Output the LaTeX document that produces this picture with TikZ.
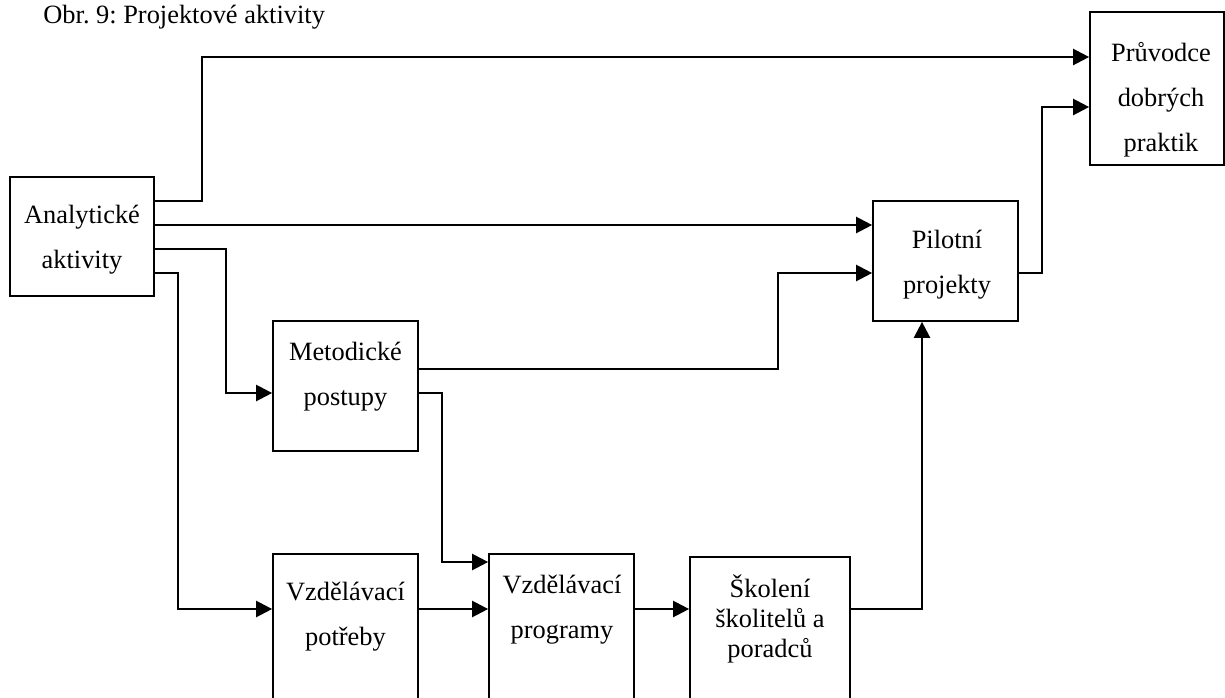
\documentclass[tikz,border=0pt]{standalone}
\usepackage{fontspec}
\setmainfont{Liberation Serif}
\usetikzlibrary{arrows.meta}
\frenchspacing
\begin{document}
\begin{tikzpicture}[x=0.5pt,y=-0.5pt,
 box/.style={draw,line width=0.85pt,inner sep=0pt},
 lbl/.style={inner sep=0pt,align=center,font=\fontsize{13.2}{22.5}\selectfont},
 lbls/.style={inner sep=0pt,align=center,font=\fontsize{13.2}{15}\selectfont},
 arr/.style={line width=1.15pt,-{Triangle[length=8pt,width=8pt]}}]
\useasboundingbox (0,0) rectangle (1225,697);
\node[lbl,anchor=base west] (title) at (43,23) {Obr. 9: Projektové aktivity};
% boxes
\node[box,minimum width=72pt,minimum height=59.5pt] (A) at (82,236.5) {};
\node[box,minimum width=67pt,minimum height=76.5pt] (P) at (1157,88.5) {};
\node[box,minimum width=72.5pt,minimum height=60pt] (Pi) at (945.5,261) {};
\node[box,minimum width=72.5pt,minimum height=65pt] (M) at (345.5,386) {};
\node[box,minimum width=72.5pt,minimum height=78pt] (VP) at (345.5,632) {};
\node[box,minimum width=72.5pt,minimum height=78pt] (VG) at (561.5,632) {};
\node[box,minimum width=80pt,minimum height=76.5pt] (S) at (770,633.5) {};
% labels
\node[lbl] (At) at (82,239.5) {Analytické\\aktivity};
\node[lbl] (Pt) at (1161,99.5) {Průvodce\\dobrých\\praktik};
\node[lbl] (Pit) at (947,264.5) {Pilotní\\projekty};
\node[lbl] (Mt) at (345.5,377) {Metodické\\postupy};
\node[lbl] (VPt) at (345.5,617) {Vzdělávací\\potřeby};
\node[lbl] (VGt) at (562,610) {Vzdělávací\\programy};
\node[lbls] (St) at (770,619) {Školení\\školitelů a\\poradců};
% connectors
\draw[arr] (A.east |- 0,201) -- (202,201) |- (P.west |- 0,57);
\draw[arr] (A.east |- 0,225) -- (Pi.west |- 0,225);
\draw[arr] (A.east |- 0,249) -| (226,393) -- (M.west |- 0,393);
\draw[arr] (A.east |- 0,273) -| (178,609) -- (VP.west |- 0,609);
\draw[arr] (M.east |- 0,369) -| (778,273) -- (Pi.west |- 0,273);
\draw[arr] (M.east |- 0,393) -| (442,562) -- (VG.west |- 0,562);
\draw[arr] (VP.east |- 0,609) -- (VG.west |- 0,609);
\draw[arr] (VG.east |- 0,609) -- (S.west |- 0,609);
\draw[arr] (S.east |- 0,609) -| (Pi.south -| 922,0);
\draw[arr] (Pi.east |- 0,273) -- (1042,273) |- (P.west |- 0,107);
\end{tikzpicture}
\end{document}
